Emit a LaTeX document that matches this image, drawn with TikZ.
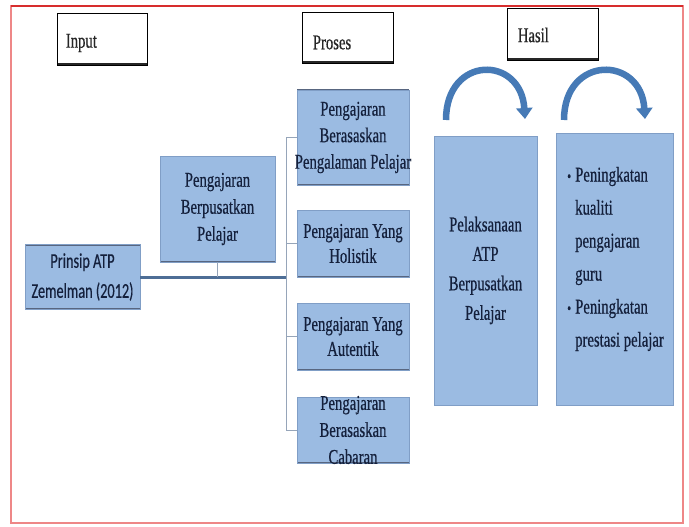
\documentclass[tikz,border=0pt]{standalone}
\usepackage{fontspec}
\setmainfont[FakeStretch=0.70,FakeBold=0.5]{Liberation Serif}
\newfontfamily\cfsans[FakeStretch=0.68,FakeBold=0.4]{Carlito}
\usetikzlibrary{arrows.meta}
\definecolor{boxfill}{RGB}{155,187,226}
\definecolor{boxline}{RGB}{128,158,198}
\definecolor{boxedge}{RGB}{88,102,128}
\definecolor{navy}{RGB}{20,32,60}
\definecolor{connthin}{RGB}{150,165,185}
\definecolor{connthick}{RGB}{78,110,150}
\definecolor{arrowblue}{RGB}{70,122,182}
\definecolor{framecol}{RGB}{238,135,135}
\definecolor{frametop}{RGB}{215,45,45}
\begin{document}
\begin{tikzpicture}[x=1pt,y=-1pt,
  bluebox/.style={draw=boxline, line width=0.7pt, fill=boxfill, inner sep=0pt},
  edged/.style={path picture={\draw[boxedge, line width=2.2pt]
      (path picture bounding box.north west) -- (path picture bounding box.north east)
      (path picture bounding box.south west) -- (path picture bounding box.south east);}},
  boxtext/.style={align=center, text=navy, inner sep=0pt},
  hdrbox/.style={draw=black, line width=0.7pt, fill=white, inner sep=0pt,
    path picture={\draw[black!85, line width=3pt]
      (path picture bounding box.south west) -- (path picture bounding box.south east);}},
  hdrtext/.style={font=\fontsize{21}{23}\selectfont, text=black!85, inner sep=0pt, anchor=west},
  thinconn/.style={draw=connthin, line width=0.9pt},
  thickconn/.style={draw=connthick, line width=3pt},
  curvearrow/.style={draw=arrowblue, line width=6.5pt, -{Triangle[length=11pt,width=16pt]}},
]
\useasboundingbox (0,0) rectangle (689,527);
\fill[white] (0,0) rectangle (689,527);
% frame
\draw[framecol, line width=1.2pt] (11,6) rectangle (683,523);
\draw[frametop, line width=1.2pt] (11,6) -- (683,6);

% header boxes
\node[hdrbox, minimum width=90pt, minimum height=52pt,
  label={[hdrtext, xshift=9pt, yshift=-4pt]west:Input}] (input) at (102,39) {};
\node[hdrbox, minimum width=91pt, minimum height=51pt,
  label={[hdrtext, xshift=11pt, yshift=-5pt]west:Proses}] (proses) at (347.5,37.5) {};
\node[hdrbox, minimum width=91pt, minimum height=52pt,
  label={[hdrtext, xshift=11pt, yshift=-1pt]west:Hasil}] (hasil) at (552.5,34) {};

% input side
\node[bluebox, edged, minimum width=115pt, minimum height=65pt,
  label={[boxtext, font=\cfsans\fontsize{21}{30}\selectfont]center:{Prinsip ATP\\Zemelman (2012)}}]
  (prinsip) at (82.5,277) {};
\node[bluebox, edged, minimum width=115pt, minimum height=106pt,
  label={[boxtext, font=\fontsize{21}{27}\selectfont]center:{Pengajaran\\Berpusatkan\\Pelajar}}]
  (berpusat) at (217.5,209) {};

% process column
\node[bluebox, edged, minimum width=112pt, minimum height=95pt,
  label={[boxtext, font=\fontsize{21}{26.5}\selectfont]center:{Pengajaran\\Berasaskan\\Pengalaman Pelajar}}]
  (b1) at (353,137.5) {};
\node[bluebox, edged, minimum width=112pt, minimum height=67pt,
  label={[boxtext, font=\fontsize{21}{25}\selectfont]center:{Pengajaran Yang\\Holistik}}]
  (b2) at (353,243.5) {};
\node[bluebox, edged, minimum width=112pt, minimum height=67pt,
  label={[boxtext, font=\fontsize{21}{25}\selectfont]center:{Pengajaran Yang\\Autentik}}]
  (b3) at (353,336.5) {};
\node[bluebox, edged, minimum width=112pt, minimum height=66pt,
  label={[boxtext, font=\fontsize{21}{27}\selectfont]center:{Pengajaran\\Berasaskan\\Cabaran}}]
  (b4) at (353,430) {};

% results
\node[bluebox, minimum width=103pt, minimum height=269pt,
  label={[boxtext, font=\fontsize{21}{29.5}\selectfont]center:{Pelaksanaan\\ATP\\Berpusatkan\\Pelajar}}]
  (pelaksanaan) at (485.5,270.5) {};
\node[bluebox, minimum width=117pt, minimum height=272pt,
  label={[boxtext, align=left, font=\fontsize{21}{33}\selectfont, yshift=10pt, xshift=1pt]center:{%
    \makebox[8pt][l]{\fontsize{16}{16}\selectfont\textbullet}Peningkatan\\
    \hspace*{8pt}kualiti\\
    \hspace*{8pt}pengajaran\\
    \hspace*{8pt}guru\\
    \makebox[8pt][l]{\fontsize{16}{16}\selectfont\textbullet}Peningkatan\\
    \hspace*{8pt}prestasi pelajar}}]
  (peningkatan) at (614.5,269) {};

% connectors
\coordinate (sp) at (286,277);
\draw[thickconn] (prinsip.east) -- (sp);
\draw[thinconn] (berpusat.south) -- (berpusat.south |- sp);
\draw[thinconn] (b1.west) -- (b1.west -| sp) -- (b4.west -| sp) -- (b4.west);
\draw[thinconn] (b2.west) -- (b2.west -| sp);
\draw[thinconn] (b3.west) -- (b3.west -| sp);

% curved arrows
\coordinate (a1s) at (446,120);
\coordinate (a1e) at (525,119);
\coordinate (a2s) at (564,120);
\coordinate (a2e) at (645,119);
\draw[curvearrow] (a1s) .. controls (446,55) and (521,55) .. (a1e);
\draw[curvearrow] (a2s) .. controls (564,55) and (641,55) .. (a2e);
\end{tikzpicture}
\end{document}
